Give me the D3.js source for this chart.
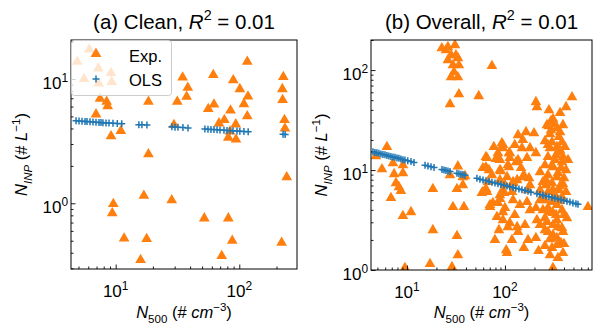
<!DOCTYPE html>
<html>
<head>
<meta charset="utf-8">
<script src="https://cdn.jsdelivr.net/npm/d3@7"></script>
<style>
  body { margin: 0; background: #fff; }
  text { font-family: "Liberation Sans", Arial, sans-serif; fill: #000; }
</style>
</head>
<body>
<svg id="chart" width="596" height="325"></svg>
<script>
// ---- data ----
// (a) clean cases
const cleanN500 = [6.93, 6.11, 4.89, 7.23, 9.17, 5.55, 7.28, 9.29, 7.47, 8.45, 8.61, 6.93, 9.17, 11.0,
  18.4, 18.4, 34.8, 38.3, 37.5, 31.5, 29.6, 61.6, 89.4, 101, 117.5, 116, 56.1, 62.4, 84.9, 109, 116,
  75.7, 68.5, 93.6, 84.1, 81.5, 94.0, 227, 223, 224, 232, 234, 242, 9.57, 9.38, 16.9, 28.4, 52.1, 81.5,
  11.7, 17.8, 87.7, 220, 15.9, 72.1];
const cleanNINP = [16.1, 17.3, 13.8, 12.2, 11.2, 10.0, 9.2, 9.5, 6.95, 6.57, 6.06, 5.2, 3.47, 3.82,
  6.57, 2.48, 10.3, 8.51, 7.21, 6.57, 4.27, 10.8, 9.8, 8.3, 7.23, 13.8, 5.74, 6.24, 5.58, 6.29, 5.03,
  4.68, 4.40, 4.32, 3.79, 3.38, 3.27, 10.4, 8.3, 6.78, 4.68, 4.01, 1.62, 0.987, 0.832, 1.15, 1.06, 0.757, 0.757,
  0.522, 0.516, 0.50, 0.482, 0.35, 0.377];
const cleanOlsN500 = [4.78, 5.05, 5.34, 5.65, 5.86, 6.20, 6.55, 6.93, 7.33, 7.61, 7.89, 8.35, 8.83, 9.51,
  10.3, 11.2, 15.4, 16.3, 17.9, 28.5, 30.2, 31.9, 35.0, 38.5, 52.7, 55.8, 59.0, 62.4, 66.1, 69.8, 75.2,
  79.6, 84.1, 88.9, 95.8, 101, 109, 118, 226, 235];
const cleanOlsNINP = [4.62, 4.60, 4.58, 4.56, 4.55, 4.53, 4.51, 4.49, 4.47, 4.46, 4.45, 4.43, 4.42, 4.40,
  4.39, 4.37, 4.29, 4.28, 4.26, 4.12, 4.10, 4.09, 4.07, 4.04, 3.96, 3.95, 3.93, 3.92, 3.90, 3.89, 3.87,
  3.86, 3.84, 3.83, 3.81, 3.80, 3.78, 3.76, 3.59, 3.58];

// (b) all cases
const overallN500 = [
  22.7, 26.2, 30.9, 28.2, 33.1, 26.2, 29.5, 33.9, 30.2, 28.2, 33.1, 25, 31.6, 33.9, 27.5, 54, 73.6,
  207, 212, 483, 420, 309, 324, 391, 280, 136, 164, 198, 152, 95.4, 64, 110,
  295, 268, 339, 288, 356, 302, 382, 339, 409, 288, 347, 391, 275, 324, 382, 256, 309, 373, 228, 275,
  339, 400, 391, 244, 302, 228, 275, 324, 382, 244, 302, 339, 275, 382, 309, 429, 339, 268, 347, 309,
  288, 373, 256, 339, 302, 220, 391, 309, 295, 365, 262, 356, 332, 256, 391,
  256, 365, 275, 332, 302, 420, 347, 262, 365, 309, 420, 256, 356, 288, 400, 256, 309, 382, 275, 339,
  400, 288, 347, 244, 228, 440, 281, 365,
  93, 95.4, 84.8, 112, 149, 207, 65.5, 88.9, 112, 136, 168, 64, 90.7, 110, 146, 156, 176, 105, 84.8,
  88.9, 107, 152, 121, 88.9, 65.5, 95.4, 118, 172, 121, 168, 70.3, 84.8, 95.4, 82.8, 112, 59.6, 64,
  88.9, 100, 121, 70.3, 100, 95.4, 107, 133, 212, 207, 136, 86.8, 103, 156, 207, 105, 80.9, 68.7, 67.1,
  64, 75.3, 88.9, 97.7, 130, 703,
  77, 126, 180, 73.6, 133, 180, 142, 180, 126, 160, 79, 172, 228, 118,
  4.83, 7.2, 9.1, 5.56, 6.25, 7.4, 9.1, 7.73, 8.28, 8.68, 6.87, 18.4, 9.1, 11, 18.4, 32.4, 33.1, 17.2,
  28.8, 9.54, 33.1, 27.5, 39.1, 37.2, 32.4, 29.5, 38.2, 58.2, 59.6, 37.2];
const overallNINP = [
  166, 170, 178, 141, 132, 126, 112, 112, 95.5, 85.1, 85.1, 158, 141, 57.5, 45.7, 55, 110,
  47.9, 42.7, 53.7, 42.7, 32.4, 28.8, 28.2, 27.5, 22.4, 24, 23.4, 20, 17.8, 13.5, 14.8,
  30.9, 28.2, 26.3, 22.9, 21.4, 19, 19, 17, 17, 16.6, 15.1, 13.5, 13.5, 12.6, 12, 11.2, 10.7, 10.5, 9.55, 8.91,
  8.51, 8.32, 7.24, 7.59, 7.41, 6.31, 6.03, 5.62, 5.37, 5.25, 4.79, 4.47, 4.17, 3.98, 3.72, 3.31, 3.16, 3.02, 2.69, 2.24,
  2.04, 1.86, 1.74, 1.78, 1.66, 1.55, 1.48, 1.05, 25.1, 15.8, 7.08, 6.31, 3.55, 2.51, 2.4,
  19.5, 24, 17.8, 14.1, 11.2, 10, 9.33, 7.94, 6.92, 6.31, 6.03, 5.01, 4.9, 3.8, 3.55, 3.31, 2.82, 2.63, 2.4, 2.09,
  1.82, 1.41, 1.32, 3.98, 5.01, 12.6, 39.8, 37.2,
  18.6, 16.6, 14.8, 14.8, 16.6, 14.8, 13.2, 12.6, 13.2, 12.6, 13.2, 10.7, 9.77, 10.7, 10.5, 8.91, 8.32, 8.51, 13.5,
  10, 11.2, 8.51, 7.59, 7.94, 6.03, 6.31, 6.03, 6.31, 5.01, 4.79, 4.47, 4.68, 3.8, 3.39, 2.95, 6.03, 6.31,
  5.62, 7.08, 7.41, 4.27, 4.17, 3.16, 2.69, 2.69, 3.16, 4.17, 2.4, 2.51, 1.58, 1.66, 2.09, 1.48, 12.9, 10, 7.59,
  6.46, 4.68, 5.13, 5.89, 12, 4.27,
  17, 17.8, 16.6, 8.91, 7.94, 7.08, 4.47, 3.98, 3.55, 2.82, 2, 2, 2.82, 2,
  13.8, 11.7, 11.2, 10.2, 17, 9.12, 9.33, 7.41, 6.76, 6.17, 5.25, 6.46, 3.47, 3.8, 2.51, 2.19, 1.41, 1.15,
  1.07, 1.05, 10.9, 8.91, 8.71, 7.08, 6.46, 4.27, 4.27, 5.89, 10.5, 8.51];
const overallOlsN500 = [4.50, 4.71, 4.94, 5.18, 5.43, 5.69, 5.97, 6.25, 6.55, 6.87, 7.20, 7.55, 7.91, 8.28,
  8.68, 9.10, 9.54, 10.2, 11.0, 11.8, 15.3, 16.4, 17.6, 18.9, 22.8, 23.9, 25.0, 26.2, 27.5, 32.4, 33.9,
  35.6, 37.3, 39.1, 51.8, 55.6, 59.7, 64.0, 68.7, 73.7, 79.1, 84.9, 91.0, 97.7, 105, 112, 121, 129, 139,
  149, 160, 172, 184, 212, 228, 244, 262, 281, 302, 324, 347, 373, 400, 429, 460, 494, 530, 556];
const overallOlsNINP = [15.2, 15.0, 14.9, 14.7, 14.5, 14.3, 14.2, 14.0, 13.8, 13.7, 13.5, 13.4, 13.2, 13.1,
  12.9, 12.7, 12.6, 12.4, 12.2, 11.9, 11.2, 11.0, 10.8, 10.6, 10.1, 10.0, 9.91, 9.80, 9.68, 9.29, 9.18,
  9.07, 8.97, 8.87, 8.26, 8.11, 7.97, 7.83, 7.69, 7.56, 7.43, 7.30, 7.17, 7.05, 6.92, 6.80, 6.68, 6.56, 6.45,
  6.34, 6.23, 6.12, 6.01, 5.80, 5.70, 5.60, 5.50, 5.41, 5.31, 5.22, 5.13, 5.04, 4.95, 4.86, 4.78, 4.69, 4.61, 4.55];

const titles = [['(a) Clean, ', '0.01'], ['(b) Overall, ', '0.01']];
const legendLabels = ['Exp.', 'OLS'];

// ---- drawing ----
const svg = d3.select('#chart');
const orange = '#ff7f0e', blue = '#1f77b4';
const tri = d3.symbol().type(d3.symbolTriangle).size(50);
const plusPath = 'M-3.5,0H3.5M0,-3.5V3.5';

// text made of pieces: {t, i: italic, sup, sub}
function rich(sel, parts, size) {
  let shift = 0;
  parts.forEach(p => {
    const target = p.sup ? -0.42 * size : p.sub ? 0.28 * size : 0;
    const ts = sel.append('tspan').attr('dy', target - shift).text(p.t);
    shift = target;
    if (p.i) ts.attr('font-style', 'italic');
    if (p.sup || p.sub) ts.attr('font-size', size * 0.7);
  });
}

function panel(o) {
  const b = o.box;
  const x = d3.scaleLog().domain(o.xDomain).range([b.left, b.right]);
  const y = d3.scaleLog().domain(o.yDomain).range([b.bottom, b.top]);
  const g = svg.append('g');

  svg.append('clipPath').attr('id', 'clip-' + o.id)
    .append('rect').attr('x', b.left).attr('y', b.top)
    .attr('width', b.right - b.left).attr('height', b.bottom - b.top);

  const plot = g.append('g').attr('clip-path', 'url(#clip-' + o.id + ')');
  plot.selectAll('path.exp').data(d3.range(o.expX.length)).join('path')
    .attr('class', 'exp')
    .attr('d', tri)
    .attr('fill', orange)
    .attr('transform', i => 'translate(' + x(o.expX[i]) + ',' + y(o.expY[i]) + ')');
  plot.selectAll('path.ols').data(d3.range(o.olsX.length)).join('path')
    .attr('class', 'ols')
    .attr('d', plusPath)
    .attr('stroke', blue).attr('stroke-width', 1.5).attr('fill', 'none')
    .attr('transform', i => 'translate(' + x(o.olsX[i]) + ',' + y(o.olsY[i]) + ')');

  const isMajor = v => Math.abs(Math.log10(v) - Math.round(Math.log10(v))) < 1e-9;
  const xt = x.ticks(), yt = y.ticks();
  const xMaj = xt.filter(isMajor), yMaj = yt.filter(isMajor);
  const xMin = xt.filter(v => !isMajor(v)), yMin = yt.filter(v => !isMajor(v));

  function axis(gen, vals, size, tr) {
    const a = g.append('g').attr('transform', tr)
      .call(gen.tickValues(vals).tickSize(-size).tickFormat(() => ''));
    a.select('.domain').remove();
    a.selectAll('line').attr('stroke', '#000').attr('stroke-width', 0.9);
  }
  axis(d3.axisBottom(x), xMin, 2.5, 'translate(0,' + b.bottom + ')');
  axis(d3.axisBottom(x), xMaj, 4.5, 'translate(0,' + b.bottom + ')');
  axis(d3.axisLeft(y), yMin, 2.5, 'translate(' + b.left + ',0)');
  axis(d3.axisLeft(y), yMaj, 4.5, 'translate(' + b.left + ',0)');

  g.append('rect').attr('x', b.left).attr('y', b.top)
    .attr('width', b.right - b.left).attr('height', b.bottom - b.top)
    .attr('fill', 'none').attr('stroke', '#000').attr('stroke-width', 1);

  // tick labels 10^n
  xMaj.forEach(v => {
    const t = g.append('text').attr('x', x(v)).attr('y', b.bottom + 28)
      .attr('text-anchor', 'middle').attr('font-size', 17);
    rich(t, [{ t: '10' }, { t: String(Math.round(Math.log10(v))), sup: true }], 17);
  });
  yMaj.forEach(v => {
    const t = g.append('text').attr('x', b.left - 3).attr('y', y(v) + 10)
      .attr('text-anchor', 'end').attr('font-size', 17);
    rich(t, [{ t: '10' }, { t: String(Math.round(Math.log10(v))), sup: true }], 17);
  });

  // title
  const tt = g.append('text').attr('x', (b.left + b.right) / 2).attr('y', 29)
    .attr('text-anchor', 'middle').attr('font-size', 20.5);
  rich(tt, [{ t: o.title[0] }, { t: 'R', i: true }, { t: '2', sup: true }, { t: ' = ' + o.title[1] }], 20.5);

  // axis labels
  const xl = g.append('text').attr('x', (b.left + b.right) / 2).attr('y', 318)
    .attr('text-anchor', 'middle').attr('font-size', 16.5);
  rich(xl, [{ t: 'N', i: true }, { t: '500', sub: true }, { t: ' (# ' }, { t: 'cm', i: true },
    { t: '\u22123', sup: true }, { t: ')' }], 16.5);
  const yl = g.append('text')
    .attr('transform', 'translate(' + (b.left - 44) + ',' + (b.top + b.bottom) / 2 + ') rotate(-90)')
    .attr('text-anchor', 'middle').attr('font-size', 16.5);
  rich(yl, [{ t: 'N', i: true }, { t: 'INP', i: true, sub: true }, { t: ' (# ' }, { t: 'L', i: true },
    { t: '\u22121', sup: true }, { t: ')' }], 16.5);

  if (o.legend) {
    const lg = g.append('g');
    lg.append('rect').attr('x', b.left + 0.5).attr('y', b.top + 0.5).attr('width', 100).attr('height', 55)
      .attr('rx', 3).attr('fill', '#fff').attr('fill-opacity', 0.8).attr('stroke', '#ccc');
    lg.append('path').attr('d', tri).attr('fill', orange)
      .attr('transform', 'translate(' + (b.left + 25) + ',' + (b.top + 14) + ')');
    lg.append('path').attr('d', plusPath).attr('stroke', blue).attr('stroke-width', 1.5)
      .attr('transform', 'translate(' + (b.left + 25) + ',' + (b.top + 39) + ')');
    lg.append('text').attr('x', b.left + 58).attr('y', b.top + 22).attr('font-size', 16.5).text(legendLabels[0]);
    lg.append('text').attr('x', b.left + 58).attr('y', b.top + 46).attr('font-size', 16.5).text(legendLabels[1]);
  }
}

panel({
  id: 'a', box: { left: 71, right: 297, top: 40, bottom: 269 },
  xDomain: [4.35, 293], yDomain: [0.296, 20.6],
  expX: cleanN500, expY: cleanNINP, olsX: cleanOlsN500, olsY: cleanOlsNINP,
  title: titles[0], legend: true
});
panel({
  id: 'b', box: { left: 371, right: 592, top: 40, bottom: 270 },
  xDomain: [4.3, 773], yDomain: [1, 200],
  expX: overallN500, expY: overallNINP, olsX: overallOlsN500, olsY: overallOlsNINP,
  title: titles[1], legend: false
});
</script>
</body>
</html>
